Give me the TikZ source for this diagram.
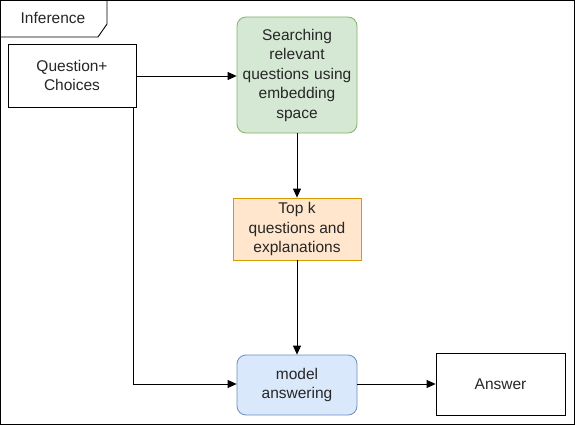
\documentclass[tikz,border=0pt]{standalone}
\usepackage{fontspec}
\setmainfont{Liberation Sans}
\usetikzlibrary{arrows.meta}
\begin{document}
\begin{tikzpicture}[x=1pt,y=-1pt,
  every node/.style={font=\fontsize{15.5}{19.5}\selectfont, align=center, text=black!85},
  plainbox/.style={draw=black, fill=white, line width=0.8pt},
  greenbox/.style={draw=gborder, fill={rgb,255:red,213;green,232;blue,212}, rounded corners=9pt, line width=0.8pt},
  orangebox/.style={draw={rgb,255:red,215;green,155;blue,0}, fill={rgb,255:red,255;green,230;blue,204}, line width=0.8pt},
  bluebox/.style={draw={rgb,255:red,108;green,142;blue,191}, fill={rgb,255:red,218;green,232;blue,252}, rounded corners=9pt, line width=0.8pt},
  conn/.style={-{Triangle[length=9pt,width=8pt]}, line width=0.8pt, black}]
\definecolor{gborder}{RGB}{130,179,102}
\useasboundingbox (0,0) rectangle (575,425);
\draw[line width=0.9pt, fill=white] (0.5,0.5) rectangle (574.5,424.5);
\draw[line width=0.9pt] (0.5,37) -- (98,37) -- (107,24) -- (107,0.5);
\node (lbl) at (53,18) {Inference};
\node[plainbox, minimum width=128pt, minimum height=63pt, inner sep=0pt] (q) at (72,75.5) {Question+\\Choices};
\node[greenbox, minimum width=120pt, minimum height=116pt, inner sep=0pt, text width=118pt] (s) at (297,75) {Searching\\relevant\\questions using\\embedding\\space};
\node[orangebox, minimum width=128pt, minimum height=62pt, inner sep=0pt] (t) at (297,229) {Top k\\questions and\\explanations};
\node[bluebox, minimum width=120pt, minimum height=60pt, inner sep=0pt] (m) at (297,385) {model\\answering};
\node[plainbox, minimum width=129pt, minimum height=62pt, inner sep=0pt] (a) at (500.5,384) {Answer};
\draw[conn] (q.east |- 0,76) -- (s.west |- 0,76);
\draw[conn] (s.south) -- (t.north);
\draw[conn] (t.south) -- (m.north);
\coordinate (qb) at (133,384);
\draw[conn] (q.south -| qb) -- (qb) -- (m.west |- qb);
\draw[conn] (m.east |- 0,384) -- (a.west |- 0,384);
\end{tikzpicture}
\end{document}
